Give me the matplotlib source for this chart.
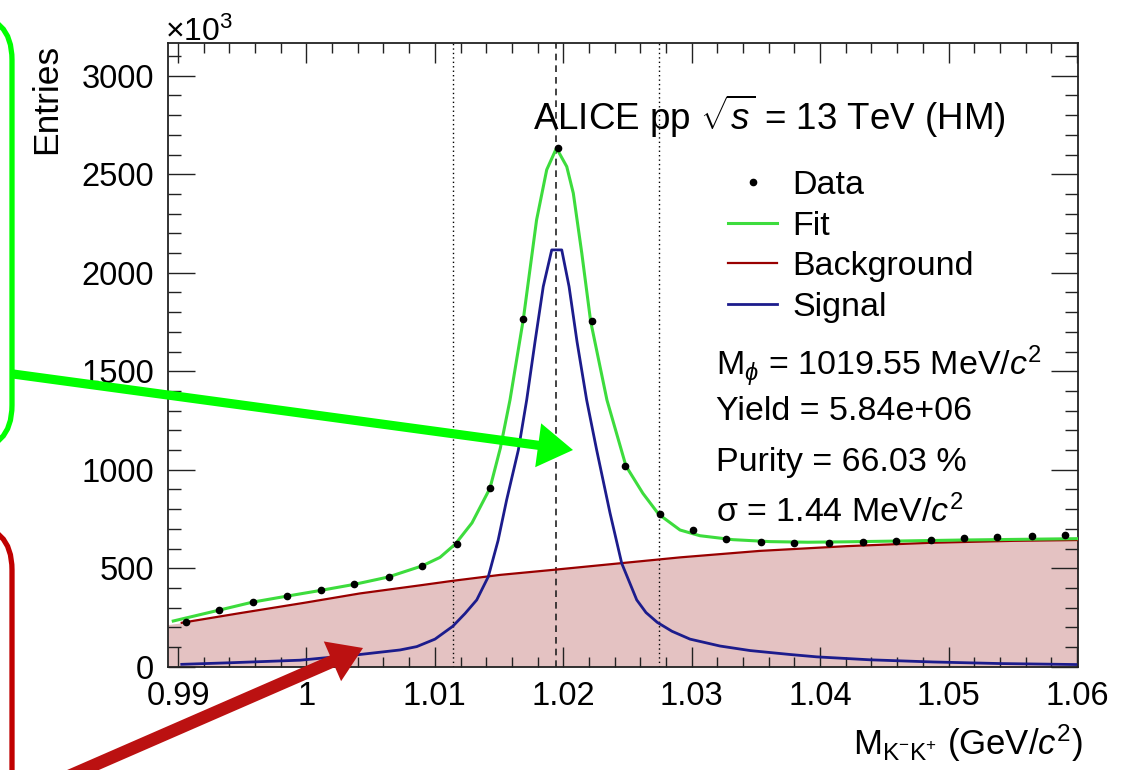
import numpy as np
import matplotlib
matplotlib.use('Agg')
import matplotlib.pyplot as plt
from matplotlib.patches import FancyBboxPatch, FancyArrowPatch
from matplotlib.transforms import IdentityTransform
from matplotlib.ticker import MultipleLocator

plt.rcParams['font.family'] = ['Liberation Sans', 'DejaVu Sans']
plt.rcParams['mathtext.fontset'] = 'custom'
plt.rcParams['mathtext.rm'] = 'Liberation Sans'
plt.rcParams['mathtext.it'] = 'Liberation Sans:italic'
plt.rcParams['mathtext.bf'] = 'Liberation Sans:bold'

W, H = 1134, 770

# data points (bin centres, counts in units of 10^3)
data_x = [0.9906, 0.9932, 0.9958, 0.9985, 1.0011, 1.0037, 1.0064, 1.0090, 1.0117,
          1.0143, 1.0169, 1.0196, 1.0222, 1.0248, 1.0275, 1.0301, 1.0327, 1.0354,
          1.0380, 1.0407, 1.0433, 1.0459, 1.0486, 1.0512, 1.0538, 1.0565, 1.0591]
data_y = [228, 287, 330, 361, 390, 420, 456, 513, 623,
          906, 1765, 2633, 1754, 1019, 776, 694, 647, 633,
          627, 627, 632, 637, 645, 652, 658, 662, 667]

# total fit
fit_x = [0.98963, 0.99319, 0.99582, 0.99846, 1.00108, 1.00373, 1.00635, 1.00902,
         1.01040, 1.01160, 1.01289, 1.01429, 1.01510, 1.01585, 1.01689, 1.01792,
         1.01871, 1.01947, 1.02027, 1.02078, 1.02144, 1.02213, 1.02340, 1.02488,
         1.02620, 1.02743, 1.02909, 1.03064, 1.03321, 1.03610, 1.03905, 1.04201,
         1.04606, 1.05089, 1.05478, 1.05998]
fit_y = [232, 287, 328, 358, 387, 418, 455, 512,
         555, 623, 730, 906, 1110, 1354, 1765, 2268,
         2523, 2633, 2539, 2404, 2100, 1754, 1354, 1019,
         880, 774, 694, 665, 645, 635, 632, 634,
         638, 643, 646, 650]

# residual background
bg_x = [0.98922, 0.99029, 0.99483, 0.99989, 1.00417, 1.00884, 1.01139, 1.01507,
        1.01943, 1.02441, 1.02909, 1.03532, 1.04207, 1.04855, 1.05504, 1.05998, 1.06008]
bg_y = [214, 223, 272, 325, 372, 413, 436, 466,
        493, 525, 555, 588, 612, 629, 639, 643, 643]

# signal peak
sig_x = [0.99029, 0.99405, 0.99950, 1.00417, 1.00729, 1.00859, 1.01001, 1.01139,
         1.01235, 1.01326, 1.01416, 1.01492, 1.01559, 1.01650, 1.01715, 1.01780,
         1.01844, 1.01910, 1.01988, 1.02045, 1.02107, 1.02182, 1.02260, 1.02364,
         1.02455, 1.02572, 1.02644, 1.02732, 1.02846, 1.02987, 1.03220, 1.03454,
         1.03765, 1.03973, 1.04388, 1.04879, 1.05400, 1.05992]
sig_y = [12, 20, 33, 62, 85, 102, 140, 205,
         270, 339, 457, 640, 847, 1100, 1354, 1650,
         1930, 2116, 2116, 1930, 1650, 1354, 1100, 780,
         525, 339, 275, 225, 180, 140, 105, 82,
         62, 50, 35, 24, 16, 11]

# peak centre and integration window
peak_pos = 1.01943
window = [1.01139, 1.02743]

fig = plt.figure(figsize=(W / 100, H / 100), dpi=100)
ax = fig.add_axes([168 / W, 1 - 666.7 / H, 910 / W, 623.4 / H])

ax.fill_between(bg_x, 0, bg_y, color='#e4c2c2', lw=0, zorder=1)
for xv in window:
    ax.axvline(xv, color='black', lw=1.0, ls=(0, (1, 2.2)), zorder=2)
ax.axvline(peak_pos, color='#222222', lw=1.2, ls=(0, (4, 3)), zorder=2)

l_bg, = ax.plot(bg_x[1:], bg_y[1:], color='#990000', lw=1.6, zorder=3, label='Background')
l_sig, = ax.plot(sig_x, sig_y, color='#1c1c8c', lw=2.0, zorder=4, label='Signal')
l_fit, = ax.plot(fit_x, fit_y, color='#3ddc3d', lw=2.2, zorder=5, label='Fit')
l_dat, = ax.plot(data_x, data_y, 'o', color='black', ms=4.5, ls='none', zorder=6, label='Data')

ax.set_xlim(0.98922, 1.06008)
ax.set_ylim(0, 3165)
ax.xaxis.set_minor_locator(MultipleLocator(0.002))
ax.yaxis.set_major_locator(MultipleLocator(500))
ax.yaxis.set_minor_locator(MultipleLocator(100))
ax.set_xticks(np.arange(0.99, 1.0601, 0.01))
ax.set_xticklabels(['0.99', '1', '1.01', '1.02', '1.03', '1.04', '1.05', '1.06'])
ax.tick_params(which='both', direction='in', top=True, right=True, labelsize=23.5,
               colors='#222222', labelcolor='black')
ax.tick_params(axis='x', which='major', length=14.5, width=1.0, pad=10.5)
ax.tick_params(axis='x', which='minor', length=7.2, width=1.0)
ax.tick_params(axis='y', which='major', length=19.5, width=1.0, pad=10)
ax.tick_params(axis='y', which='minor', length=9.5, width=1.0)
for s in ax.spines.values():
    s.set_linewidth(1.3)
    s.set_color('#222222')

leg = ax.legend(handles=[l_dat, l_fit, l_bg, l_sig], loc='upper left',
                bbox_to_anchor=(728 / W, 1 - 170 / H), bbox_transform=fig.transFigure,
                frameon=False, fontsize=24.5, handlelength=1.45, handletextpad=0.45,
                labelspacing=0.28, borderpad=0, borderaxespad=0)

fig.text(533 / W, 1 - 116 / H, r'ALICE pp $\sqrt{s}$ = 13 TeV (HM)', fontsize=26.5,
         ha='left', va='center')
fig.text(716 / W, 1 - 366 / H, r'M$_{\phi}$ = 1019.55 MeV/$c^{2}$', fontsize=24.5, va='center')
fig.text(716 / W, 1 - 412 / H, 'Yield = 5.84e+06', fontsize=24.5, va='center')
fig.text(716 / W, 1 - 462 / H, 'Purity = 66.03 %', fontsize=24.5, va='center')
fig.text(716 / W, 1 - 512 / H, r'σ = 1.44 MeV/$c^{2}$', fontsize=24.5, va='center')

fig.text(1083 / W, 1 - 755 / H, r'M$_{\mathregular{K^{-}K^{+}}}$ (GeV/$c^{2}$)', fontsize=25,
         ha='right', va='baseline')
fig.text(47 / W, 1 - 44 / H, 'Entries', fontsize=25.5, rotation=90, ha='center', va='top')
fig.text(165 / W, 1 - 41 / H, r'$\times$10$^{3}$', fontsize=23, ha='left', va='baseline')

# annotation boxes and arrows in pixel coordinates (origin bottom-left)
px = IdentityTransform()
green_box = FancyBboxPatch((-300, H - 450), 312, 435,
                           boxstyle='round,pad=0,rounding_size=45',
                           fill=False, ec='#00ff00', lw=3.8, transform=px)
red_box = FancyBboxPatch((-300, -200), 312, H - 525 + 200,
                         boxstyle='round,pad=0,rounding_size=45',
                         fill=False, ec='#c00000', lw=3.8, transform=px)
fig.add_artist(green_box)
fig.add_artist(red_box)

green_arrow = FancyArrowPatch((13, H - 374), (573, H - 450),
                              arrowstyle='simple,head_length=1.15,head_width=1.45,tail_width=0.3',
                              mutation_scale=22, color='#00ff00', lw=0,
                              shrinkA=0, shrinkB=0, transform=px)
red_arrow = FancyArrowPatch((60, H - 780), (363, H - 648),
                            arrowstyle='simple,head_length=1.0,head_width=1.3,tail_width=0.38',
                            mutation_scale=24, color='#bb1111', lw=0,
                            shrinkA=0, shrinkB=0, transform=px)
fig.add_artist(green_arrow)
fig.add_artist(red_arrow)

fig.savefig('out.png', dpi=100)
